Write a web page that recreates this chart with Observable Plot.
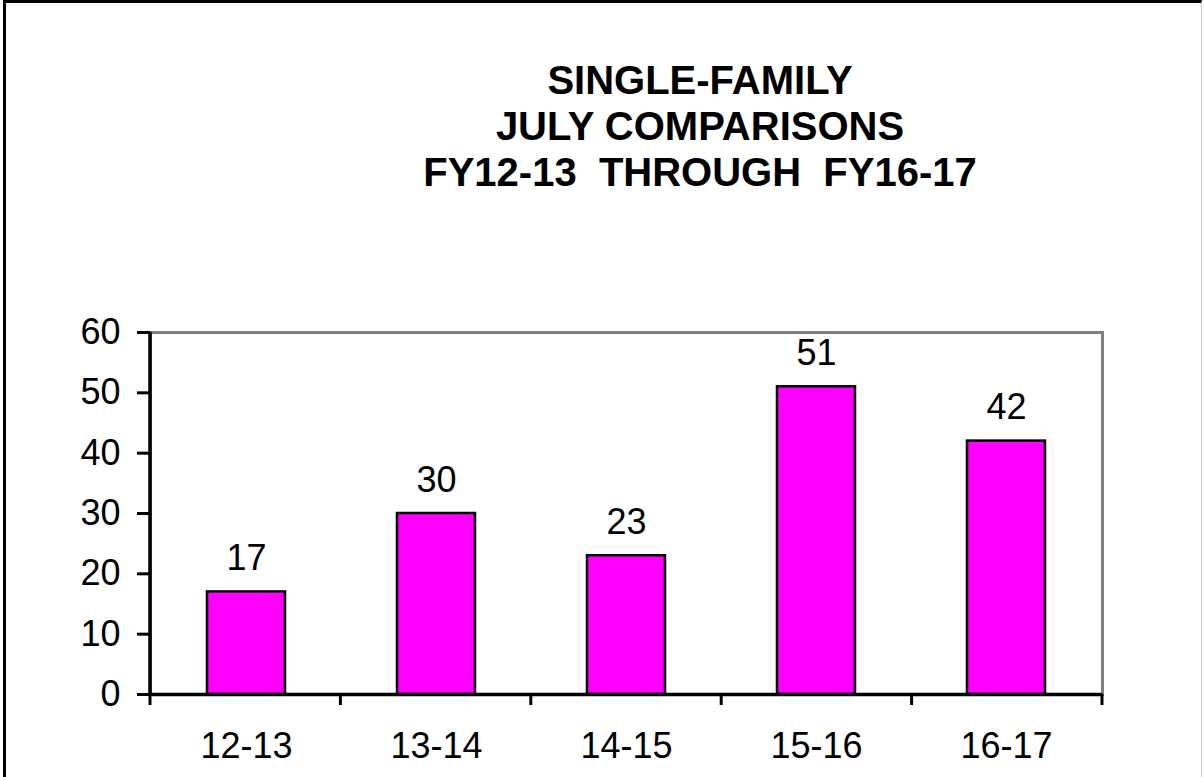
<!DOCTYPE html>
<html><head><meta charset="utf-8">
<script src="https://cdn.jsdelivr.net/npm/d3@7"></script>
<script src="https://cdn.jsdelivr.net/npm/@observablehq/plot@0.6"></script>
<style>
body{margin:0;background:#fff;}
#wrap{position:relative;width:1204px;height:777px;overflow:hidden;font-family:"Liberation Sans",Arial,sans-serif;background:#fff;}
#border{position:absolute;left:3px;top:0;width:1195px;height:820px;border-left:3px solid #000;border-top:3px solid #000;border-right:1px solid #c8c8c8;}
#title{position:absolute;left:350px;width:700px;top:57px;text-align:center;font-weight:bold;font-size:40px;line-height:46px;color:#000;}
#chart{position:absolute;left:0;top:0;}
</style></head>
<body>
<div id="wrap">
  <div id="border"></div>
  <div id="title">SINGLE-FAMILY<br>JULY COMPARISONS<br>FY12-13&nbsp; THROUGH&nbsp; FY16-17</div>
  <div id="chart"></div>
</div>
<script>
const categories = ["12-13", "13-14", "14-15", "15-16", "16-17"];
const values = [17, 30, 23, 51, 42];
const yTicks = [0, 10, 20, 30, 40, 50, 60];

const data = categories.map((c, i) => ({cat: c, value: values[i]}));

const leftLine = (index, scales, vals, dims) => {
  const g = d3.create("svg:g");
  g.append("line")
    .attr("x1", dims.marginLeft).attr("x2", dims.marginLeft)
    .attr("y1", dims.marginTop).attr("y2", dims.height - dims.marginBottom)
    .attr("stroke", "#000").attr("stroke-width", 3.5);
  return g.node();
};

const boundaryTicks = (index, scales, vals, dims) => {
  const g = d3.create("svg:g");
  const n = categories.length;
  const w = dims.width - dims.marginLeft - dims.marginRight;
  const y0 = dims.height - dims.marginBottom;
  for (let i = 0; i <= n; i++) {
    const x = dims.marginLeft + i * w / n;
    g.append("line").attr("x1", x).attr("x2", x)
      .attr("y1", y0).attr("y2", y0 + 11)
      .attr("stroke", "#000").attr("stroke-width", 3);
  }
  return g.node();
};

const chart = Plot.plot({
  width: 1204,
  height: 777,
  marginLeft: 150,
  marginRight: 102,
  marginTop: 332,
  marginBottom: 83,
  style: {background: "transparent", fontFamily: "'Liberation Sans', Arial, sans-serif", fontSize: "36px", color: "#000"},
  x: {domain: categories, paddingInner: 0.59, paddingOuter: 0.295, axis: null},
  y: {domain: [0, 60], axis: null},
  marks: [
    Plot.frame({stroke: "#808080", strokeWidth: 3}),
    Plot.barY(data, {x: "cat", y: "value", fill: "#FF00FF", stroke: "#000", strokeWidth: 2.5}),
    Plot.text(data, {x: "cat", y: "value", text: d => String(d.value), lineAnchor: "bottom", dy: -22, fontSize: 36, fill: "#000"}),
    Plot.ruleY([0], {stroke: "#000", strokeWidth: 3.5}),
    leftLine,
    boundaryTicks,
    Plot.axisY(yTicks, {tickSize: 13, tickPadding: 17, fontSize: 36, strokeWidth: 3, label: null, stroke: "#000", fill: "#000"}),
    Plot.axisX({tickSize: 0, tickPadding: 38, fontSize: 36, label: null, fill: "#000"})
  ]
});
document.getElementById("chart").appendChild(chart);
</script>
</body></html>
